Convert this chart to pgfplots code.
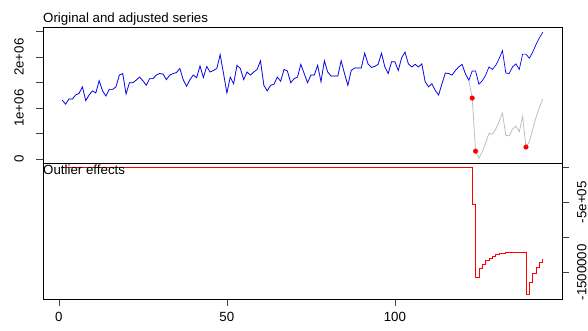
\documentclass[border=0pt]{standalone}
\usepackage{pgfplots}
\pgfplotsset{compat=1.18}
\usepackage{pgfplotstable}
\usepackage{fontspec}
\setmainfont{Liberation Sans}

% values in millions: t, adjusted series, outlier effect, original series
\pgfplotstableread{
t adj eff orig
1 1.16 0 1.16
2 1.08 0 1.08
3 1.18 0 1.18
4 1.18 0 1.18
5 1.26 0 1.26
6 1.29 0 1.29
7 1.42 0 1.42
8 1.15 0 1.15
9 1.26 0 1.26
10 1.34 0 1.34
11 1.30 0 1.30
12 1.54 0 1.54
13 1.34 0 1.34
14 1.24 0 1.24
15 1.37 0 1.37
16 1.37 0 1.37
17 1.42 0 1.42
18 1.65 0 1.65
19 1.68 0 1.68
20 1.28 0 1.28
21 1.50 0 1.50
22 1.50 0 1.50
23 1.55 0 1.55
24 1.61 0 1.61
25 1.54 0 1.54
26 1.45 0 1.45
27 1.58 0 1.58
28 1.58 0 1.58
29 1.65 0 1.65
30 1.68 0 1.68
31 1.67 0 1.67
32 1.56 0 1.56
33 1.65 0 1.65
34 1.68 0 1.68
35 1.70 0 1.70
36 1.78 0 1.78
37 1.56 0 1.56
38 1.43 0 1.43
39 1.56 0 1.56
40 1.65 0 1.65
41 1.60 0 1.60
42 1.83 0 1.83
43 1.60 0 1.60
44 1.82 0 1.82
45 1.71 0 1.71
46 1.74 0 1.74
47 1.78 0 1.78
48 2.05 0 2.05
49 1.68 0 1.68
50 1.30 0 1.30
51 1.61 0 1.61
52 1.48 0 1.48
53 1.84 0 1.84
54 1.78 0 1.78
55 1.56 0 1.56
56 1.71 0 1.71
57 1.65 0 1.65
58 1.71 0 1.71
59 1.76 0 1.76
60 1.93 0 1.93
61 1.45 0 1.45
62 1.34 0 1.34
63 1.45 0 1.45
64 1.47 0 1.47
65 1.61 0 1.61
66 1.53 0 1.53
67 1.76 0 1.76
68 1.73 0 1.73
69 1.50 0 1.50
70 1.58 0 1.58
71 1.61 0 1.61
72 1.86 0 1.86
73 1.68 0 1.68
74 1.50 0 1.50
75 1.65 0 1.65
76 1.65 0 1.65
77 1.84 0 1.84
78 1.52 0 1.52
79 1.93 0 1.93
80 1.71 0 1.71
81 1.63 0 1.63
82 1.63 0 1.63
83 1.63 0 1.63
84 1.93 0 1.93
85 1.68 0 1.68
86 1.45 0 1.45
87 1.74 0 1.74
88 1.79 0 1.79
89 1.79 0 1.79
90 1.79 0 1.79
91 2.08 0 2.08
92 1.87 0 1.87
93 1.80 0 1.80
94 1.82 0 1.82
95 1.86 0 1.86
96 2.08 0 2.08
97 1.81 0 1.81
98 1.68 0 1.68
99 1.91 0 1.91
100 1.91 0 1.91
101 1.74 0 1.74
102 1.99 0 1.99
103 2.10 0 2.10
104 1.87 0 1.87
105 1.81 0 1.81
106 1.86 0 1.86
107 1.81 0 1.81
108 1.87 0 1.87
109 1.52 0 1.52
110 1.42 0 1.42
111 1.48 0 1.48
112 1.35 0 1.35
113 1.26 0 1.26
114 1.48 0 1.48
115 1.69 0 1.69
116 1.68 0 1.68
117 1.65 0 1.65
118 1.74 0 1.74
119 1.81 0 1.81
120 1.86 0 1.86
121 1.67 0 1.67
122 1.55 0 1.55
123 1.73 -0.53 1.20
124 1.73 -1.57 0.16
125 1.47 -1.45 0.02
126 1.54 -1.39 0.15
127 1.65 -1.33 0.32
128 1.81 -1.30 0.51
129 1.76 -1.27 0.49
130 1.84 -1.25 0.59
131 1.97 -1.235 0.735
132 2.13 -1.225 0.905
133 1.69 -1.22 0.47
134 1.68 -1.22 0.46
135 1.81 -1.22 0.59
136 1.87 -1.22 0.65
137 1.76 -1.22 0.54
138 2.06 -1.22 0.84
139 2.06 -1.82 0.24
140 1.98 -1.64 0.34
141 2.10 -1.51 0.59
142 2.25 -1.43 0.82
143 2.38 -1.36 1.02
144 2.49 -1.31 1.18
}\series

\pgfplotstableread{
t orig
123 1.20
124 0.16
139 0.24
}\outliers

\begin{document}
\fontsize{13.3pt}{16pt}\selectfont
\begin{tikzpicture}[x=1pt,y=1pt]
\path[use as bounding box] (0,0) rectangle (588,331);
\pgfplotsset{
  every axis/.append style={
    scale only axis, width=519pt, height=136pt,
    xmin=-4.72, xmax=149.72,
    axis line style={black, line width=0.8pt},
    tick style={black!75, line width=0.7pt},
    tick align=outside, major tick length=7pt,
    /pgf/number format/assume math mode=true,
    tick label style={font=\fontsize{13.3pt}{16pt}\selectfont},
    clip mode=individual,
  },
}
% top panel
\begin{axis}[
  at={(43pt,168pt)}, anchor=south west,
  ymin=-0.0725, ymax=2.592,
  xtick=\empty,
  ytick={0,0.5,1,1.5,2,2.5},
  yticklabels={0,,1e+06,,2e+06,},
  ytick pos=left,
  yticklabel style={rotate=90, anchor=south, inner sep=0pt},
  yticklabel shift=12pt,
]
\addplot[color={rgb,255:red,190;green,190;blue,190}, line width=0.8pt] table[x=t, y=orig] {\series};
\addplot[color=blue, line width=0.7pt] table[x=t, y=adj] {\series};
\addplot[only marks, mark=*, mark size=2.3pt, color=red] table[x=t, y=orig] {\outliers};
\node[anchor=base west, inner sep=0pt] at (rel axis cs:0,1) [yshift=4pt] {Original and adjusted series};
\end{axis}
% bottom panel
\begin{axis}[
  at={(43pt,32pt)}, anchor=south west,
  ymin=-1.881, ymax=0.0614,
  xtick={0,50,100},
  xtick pos=bottom,
  xticklabel style={anchor=north, inner sep=0pt},
  xticklabel shift=6pt,
  ytick={-1.5,-1,-0.5,0},
  yticklabels={-1500000,,-5e+05,},
  ytick pos=right,
  yticklabel style={rotate=90, anchor=north, inner sep=0pt},
  yticklabel shift=8pt,
]
\addplot[const plot, color=red, line width=0.8pt] table[x=t, y=eff] {\series};
\node[anchor=base west, inner sep=0pt] at (rel axis cs:0,1) [yshift=-12pt] {Outlier effects};
\end{axis}
\end{tikzpicture}
\end{document}
